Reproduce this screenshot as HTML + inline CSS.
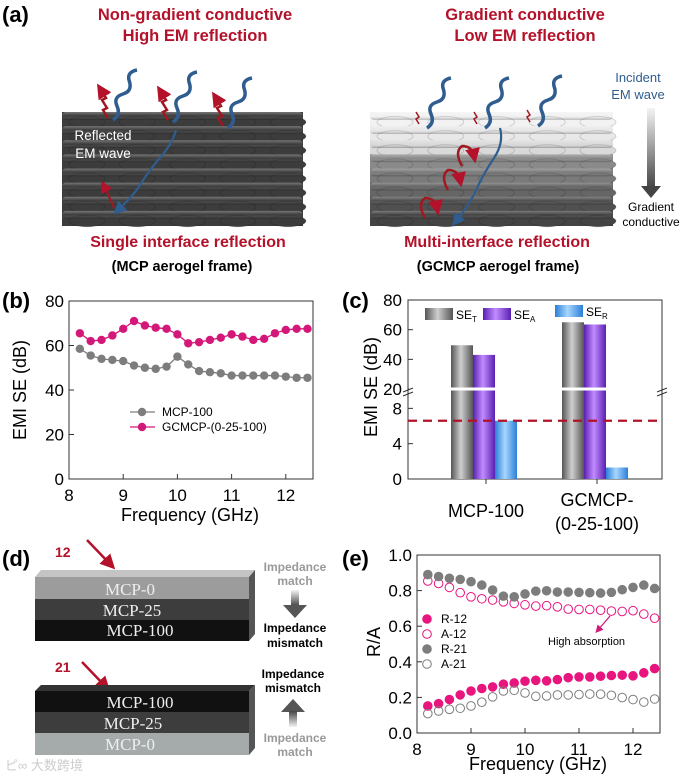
<!DOCTYPE html>
<html><head><meta charset="utf-8"><style>
body{margin:0;background:#fff}
svg{display:block;font-family:"Liberation Sans",Arial,sans-serif}
</style></head><body>
<svg id="fig" width="685" height="779" viewBox="0 0 685 779" xmlns="http://www.w3.org/2000/svg">
<defs>
<linearGradient id="gT" x1="0" x2="1"><stop offset="0" stop-color="#555"/><stop offset="0.45" stop-color="#cfcfcf"/><stop offset="1" stop-color="#555"/></linearGradient>
<linearGradient id="gA" x1="0" x2="1"><stop offset="0" stop-color="#5a1fb0"/><stop offset="0.45" stop-color="#c08cff"/><stop offset="1" stop-color="#5a1fb0"/></linearGradient>
<linearGradient id="gR" x1="0" x2="1"><stop offset="0" stop-color="#2a7fd8"/><stop offset="0.45" stop-color="#a8d6ff"/><stop offset="1" stop-color="#2a7fd8"/></linearGradient>
<linearGradient id="rod" x1="0" y1="0" x2="0" y2="1"><stop offset="0" stop-color="#fff" stop-opacity="0.3"/><stop offset="0.5" stop-color="#fff" stop-opacity="0"/><stop offset="1" stop-color="#000" stop-opacity="0.3"/></linearGradient>
<linearGradient id="gradArr" x1="0" y1="0" x2="0" y2="1"><stop offset="0" stop-color="#f4f4f4"/><stop offset="1" stop-color="#444"/></linearGradient>
<linearGradient id="gradArrUp" x1="0" y1="1" x2="0" y2="0"><stop offset="0" stop-color="#f4f4f4"/><stop offset="1" stop-color="#444"/></linearGradient>
<marker id="ah" markerWidth="6" markerHeight="6" refX="3" refY="3" orient="auto"><path d="M0,0 L6,3 L0,6z" fill="#b3122a"/></marker>
<marker id="ahm" markerWidth="6" markerHeight="6" refX="3" refY="3" orient="auto"><path d="M0,0 L6,3 L0,6z" fill="#d4187a"/></marker>
<marker id="ahb" markerWidth="6" markerHeight="6" refX="3" refY="3" orient="auto"><path d="M0,0 L6,3 L0,6z" fill="#2f5d8f"/></marker>
</defs>

<g>
<text x="2" y="22" font-size="22" font-weight="bold">(a)</text>
<text x="195" y="20" font-size="16.5" font-weight="bold" fill="#b3122a" text-anchor="middle">Non-gradient conductive</text>
<text x="195" y="41" font-size="16.5" font-weight="bold" fill="#b3122a" text-anchor="middle">High EM reflection</text>
<text x="525" y="20" font-size="16.5" font-weight="bold" fill="#b3122a" text-anchor="middle">Gradient conductive</text>
<text x="525" y="41" font-size="16.5" font-weight="bold" fill="#b3122a" text-anchor="middle">Low EM reflection</text>
<g id="blockL"></g>
<g id="blockR"></g>
<text x="103" y="140" font-size="13.5" fill="#fff" text-anchor="middle">Reflected</text>
<text x="103" y="158" font-size="13.5" fill="#fff" text-anchor="middle">EM wave</text>
<text x="638" y="82" font-size="13" fill="#2f5d8f" text-anchor="middle">Incident</text>
<text x="638" y="99" font-size="13" fill="#2f5d8f" text-anchor="middle">EM wave</text>
<rect x="647" y="108" width="8" height="80" fill="url(#gradArr)"/>
<path d="M641,186 L661,186 L651,198z" fill="#444"/>
<text x="651" y="211" font-size="12" text-anchor="middle">Gradient</text>
<text x="651" y="226" font-size="12" text-anchor="middle">conductive</text>
<text x="188" y="247" font-size="16" font-weight="bold" fill="#b3122a" text-anchor="middle">Single  interface reflection</text>
<text x="182" y="271" font-size="14.5" font-weight="bold" text-anchor="middle">(MCP aerogel frame)</text>
<text x="497" y="247" font-size="16" font-weight="bold" fill="#b3122a" text-anchor="middle">Multi-interface reflection</text>
<text x="498" y="271" font-size="14.5" font-weight="bold" text-anchor="middle">(GCMCP aerogel frame)</text>
</g>

<g id="panelB">
<text x="2" y="308" font-size="22" font-weight="bold">(b)</text>
<text transform="translate(26,390) rotate(-90)" font-size="18" text-anchor="middle">EMI SE (dB)</text>
<text x="190" y="521" font-size="18" text-anchor="middle">Frequency (GHz)</text>
</g>

<g id="panelC">
<text x="342" y="308" font-size="22" font-weight="bold">(c)</text>
<text transform="translate(377,387) rotate(-90)" font-size="18" text-anchor="middle">EMI SE (dB)</text>
</g>

<g font-family="Liberation Serif,serif">
<text x="2" y="566" font-size="22" font-weight="bold" font-family="Liberation Sans,sans-serif">(d)</text>
<text x="55" y="557" font-size="14" font-weight="bold" fill="#b3122a" font-family="Liberation Sans,sans-serif">12</text>
<line x1="87" y1="540" x2="110" y2="564" stroke="#b3122a" stroke-width="2.5" marker-end="url(#ah)"/>
<path d="M35,577 L41,570 L255,570 L249,577z" fill="#c4c4c4"/>
<path d="M249,577 L255,570 L255,634 L249,641z" fill="#555"/>
<rect x="35" y="577" width="214" height="22" fill="#9c9c9c"/>
<rect x="35" y="599" width="214" height="21" fill="#3d3d3d"/>
<rect x="35" y="620" width="214" height="21" fill="#111"/>
<text x="130" y="595" font-size="17" fill="#eee" text-anchor="middle">MCP-0</text>
<text x="132" y="616" font-size="17" fill="#eee" text-anchor="middle">MCP-25</text>
<text x="140" y="636" font-size="17" fill="#eee" text-anchor="middle">MCP-100</text>
<text x="55" y="672" font-size="14" font-weight="bold" fill="#b3122a" font-family="Liberation Sans,sans-serif">21</text>
<line x1="82" y1="662" x2="105" y2="686" stroke="#b3122a" stroke-width="2.5" marker-end="url(#ah)"/>
<path d="M35,691 L41,685 L255,685 L249,691z" fill="#333"/>
<path d="M249,691 L255,685 L255,748 L249,755z" fill="#555"/>
<rect x="35" y="691" width="214" height="21" fill="#111"/>
<rect x="35" y="712" width="214" height="21" fill="#3d3d3d"/>
<rect x="35" y="733" width="214" height="22" fill="#a5aaaa"/>
<text x="140" y="708" font-size="17" fill="#eee" text-anchor="middle">MCP-100</text>
<text x="133" y="729" font-size="17" fill="#eee" text-anchor="middle">MCP-25</text>
<text x="130" y="750" font-size="17" fill="#eee" text-anchor="middle">MCP-0</text>
<g font-family="Liberation Sans,sans-serif" font-size="12" font-weight="bold" text-anchor="middle">
<text x="295" y="571" fill="#999">Impedance</text><text x="295" y="585" fill="#999">match</text>
<rect x="291" y="590" width="8" height="16" fill="url(#gradArr)"/><path d="M283,605 L307,605 L295,618z" fill="#555"/>
<text x="295" y="632">Impedance</text><text x="295" y="647">mismatch</text>
<text x="293" y="678">Impedance</text><text x="293" y="692">mismatch</text>
<path d="M281,712 L305,712 L293,699z" fill="#555"/><rect x="289" y="711" width="8" height="16" fill="url(#gradArrUp)"/>
<text x="295" y="742" fill="#999">Impedance</text><text x="295" y="756" fill="#999">match</text>
</g>
<text x="5" y="770" font-size="13" fill="#ccc" font-family="Liberation Sans,Noto Sans CJK SC,sans-serif">ピ∞ 大数跨境</text>
</g>

<g id="panelE">
<text x="342" y="566" font-size="22" font-weight="bold">(e)</text>
<text transform="translate(380,642) rotate(-90)" font-size="18" text-anchor="middle">R/A</text>
<text x="538" y="770" font-size="18" text-anchor="middle">Frequency (GHz)</text>
<text x="548" y="645" font-size="11">High absorption</text>
<line x1="610" y1="616" x2="598" y2="630" stroke="#d4187a" stroke-width="1.3" marker-end="url(#ahm)"/>
</g>
</svg>
<script>
const freq = [8.2,8.4,8.6,8.8,9.0,9.2,9.4,9.6,9.8,10.0,10.2,10.4,10.6,10.8,11.0,11.2,11.4,11.6,11.8,12.0,12.2,12.4];
const seMCP = [58.5,55.5,54,53.5,53,51,50,49.5,50.5,55,51.5,48.5,48,47.5,46.5,46.5,46.5,46.5,46.5,46,45.5,45.5];
const seGCMCP = [65.5,62,62.5,64.5,67.5,71,69,68,67.5,65,61,61.5,62.5,63.5,65,64,62.5,63,65.5,67,67.5,67.5];
const bTicksY = [0,20,40,60,80];
const freqTicks = [8,9,10,11,12];
const cCategories = ["MCP-100","GCMCP-"];
const seT = [49.5,65];
const seA = [43,63.5];
const seR = [6.6,1.3];
const cRefLine = 6.6;
const cTicksUpper = [20,40,60,80];
const cTicksLower = [0,4,8];
const eR12 = [0.152,0.165,0.188,0.214,0.236,0.25,0.259,0.274,0.281,0.291,0.296,0.293,0.3,0.311,0.315,0.315,0.319,0.323,0.325,0.321,0.338,0.362];
const eA12 = [0.854,0.84,0.818,0.788,0.765,0.754,0.747,0.737,0.728,0.72,0.713,0.715,0.709,0.696,0.694,0.694,0.69,0.685,0.683,0.687,0.668,0.645];
const eR21 = [0.89,0.879,0.869,0.863,0.85,0.831,0.803,0.769,0.765,0.781,0.797,0.799,0.792,0.792,0.79,0.788,0.786,0.79,0.805,0.818,0.831,0.812];
const eA21 = [0.109,0.124,0.133,0.139,0.152,0.173,0.203,0.236,0.24,0.225,0.206,0.208,0.214,0.214,0.216,0.219,0.218,0.212,0.199,0.188,0.174,0.191];
const eTicksY = [0,0.2,0.4,0.6,0.8,1.0];

const NS="http://www.w3.org/2000/svg";
function mk(parent,tag,attrs,text){const e=document.createElementNS(NS,tag);for(const k in attrs)e.setAttribute(k,attrs[k]);if(text!==undefined)e.textContent=text;parent.appendChild(e);return e;}

function block(id,x0,x1,y0,colors){
  const g=document.getElementById(id);
  const h=(225-y0)/colors.length;
  colors.forEach((c,i)=>{
    const y=y0+i*h;
    const r=mk(g,'rect',{x:x0,y:y,width:x1-x0,height:h+1,fill:c});
    
    
    for(let k=0;k<5;k++){mk(g,'ellipse',{cx:x0+25+k*(x1-x0-40)/4,cy:y+h*0.72,rx:18,ry:h*0.4,fill:c,stroke:'rgba(0,0,0,0.15)'});}
    mk(g,'rect',{x:x0,y:y,width:x1-x0,height:h*0.55,rx:h*0.27,fill:'url(#rod)'});
  });
}
block('blockL',62,303,112,Array(8).fill('#3c3c3c'));
block('blockR',370,613,112,['#f2f2f2','#e8e8e8','#d9d9d9','#8a8a8a','#7a7a7a','#666','#505050','#444']);
function wave(g,x,y){mk(g,'path',{d:`M${x},${y} q8,-5 4,-14 q-4,-9 6,-12 q10,-3 6,-14 q-2,-8 8,-10`,fill:'none',stroke:'#2f5d8f','stroke-width':3.5});}
const gL=document.getElementById('blockL'), gR=document.getElementById('blockR');
[[113,120],[173,122],[228,128]].forEach(p=>{wave(gL,p[0],p[1]);mk(gL,'path',{d:`M${p[0]-5},${p[1]-2} l-5,-8 l4,-2 l-5,-8 l4,-2 l-5,-8`,fill:'none',stroke:'#a01820','stroke-width':2.5,'marker-end':'url(#ah)'});});
[[427,128],[485,128],[538,126]].forEach(p=>{wave(gR,p[0],p[1]);mk(gR,'path',{d:`M${p[0]-8},${p[1]-4} l-3,-5 l3,-2 l-3,-5`,fill:'none',stroke:'#a01820','stroke-width':1.5});});
mk(gL,'path',{d:'M176,130 q-4,15 -18,30 q-12,15 -18,25 q-6,10 -22,25',fill:'none',stroke:'#2f5d8f','stroke-width':2.2,'marker-end':'url(#ahb)'});
mk(gL,'path',{d:'M114,208 q-5,-12 -10,-22',fill:'none',stroke:'#a01820','stroke-width':2,'marker-end':'url(#ah)'});
mk(gR,'path',{d:'M500,128 q4,15 -6,30 q-10,15 -16,28 q-6,15 -22,35',fill:'none',stroke:'#2f5d8f','stroke-width':2.2,'marker-end':'url(#ahb)'});
[[462,148,1],[448,172,1],[425,200,1]].forEach(p=>{mk(gR,'path',{d:`M${p[0]},${p[1]+18} q-8,-14 0,-20 q10,0 12,10`,fill:'none',stroke:'#a01820','stroke-width':2.5,'marker-end':'url(#ah)'});});

(function(){
  const g=document.getElementById('panelB');
  const L=69,R=313,T=301,B=479;
  const x=f=>L+(f-8)*54.2, y=v=>B-(v/80)*(B-T);
  const ax=mk(g,'rect',{x:L,y:T,width:R-L,height:B-T,fill:'none',stroke:'#333','stroke-width':1});
  
  bTicksY.forEach(v=>{mk(g,'line',{x1:L,y1:y(v),x2:L+5,y2:y(v),stroke:'#333'});
    const t=mk(g,'text',{x:L-5,y:y(v)+6,'font-size':17,'text-anchor':'end'},v);
    });
  freqTicks.forEach(f=>{mk(g,'line',{x1:x(f),y1:B,x2:x(f),y2:B-5,stroke:'#333'});
    const t=mk(g,'text',{x:x(f),y:B+22,'font-size':17,'text-anchor':'middle'},f);
    });
  [[seMCP,'#7d7d7d','mcp-100'],[seGCMCP,'#d4187a','gcmcp']].forEach(s=>{
    const l=mk(g,'polyline',{points:s[0].map((v,i)=>x(freq[i])+','+y(v)).join(' '),fill:'none',stroke:s[1],'stroke-width':1.3});
    
    s[0].forEach((v,i)=>{const c=mk(g,'circle',{cx:x(freq[i]),cy:y(v),r:4.2,fill:s[1]});
      });
  });
  [['MCP-100','#7d7d7d',412],['GCMCP-(0-25-100)','#d4187a',427]].forEach(e=>{
    const lg=mk(g,'g',{});
    mk(lg,'line',{x1:130,y1:e[2],x2:155,y2:e[2],stroke:e[1],'stroke-width':1.3});
    mk(lg,'circle',{cx:142,cy:e[2],r:4.2,fill:e[1]});
    mk(lg,'text',{x:162,y:e[2]+4,'font-size':12},e[0]);});
})();

(function(){
  const g=document.getElementById('panelC');
  const L=408,R=662,T=300,B=479,BR=389;
  const y=v=> v<=10.2 ? B-v*8.83 : BR-(v-20)*1.483;
  const xc=[486,597], bw=22;
  mk(g,'rect',{x:L,y:T,width:R-L,height:B-T,fill:'none',stroke:'#333'});
  cTicksUpper.concat(cTicksLower).forEach(v=>{mk(g,'line',{x1:L,y1:y(v),x2:L+5,y2:y(v),stroke:'#333'});
    const t=mk(g,'text',{x:L-6,y:y(v)+6,'font-size':17,'text-anchor':'end'},v);
    });
  [[seT,'url(#gT)','set'],[seA,'url(#gA)','sea'],[seR,'url(#gR)','ser']].forEach((s,k)=>{
    s[0].forEach((v,i)=>{const bx=xc[i]-35+k*bw;
      const r=mk(g,'rect',{x:bx,y:y(v),width:bw,height:B-y(v),fill:s[1]});
      });});
  mk(g,'rect',{x:L+1,y:BR-1.5,width:R-L-2,height:3,fill:'#fff'});
  mk(g,'path',{d:`M${L-5},${BR+3} l10,-4 M${L-5},${BR+7} l10,-4 M${R-5},${BR+3} l10,-4 M${R-5},${BR+7} l10,-4`,stroke:'#333'});
  const d=mk(g,'line',{x1:L,y1:y(cRefLine),x2:R,y2:y(cRefLine),stroke:'#b3122a','stroke-width':2.2,'stroke-dasharray':'9,6'});
  
  xc.forEach(c=>mk(g,'line',{x1:c,y1:B,x2:c,y2:B+5,stroke:'#333'}));
  const t1=mk(g,'text',{x:xc[0],y:517,'font-size':18,'text-anchor':'middle'},cCategories[0]);
  
  const t2=mk(g,'text',{x:xc[1],y:506,'font-size':18,'text-anchor':'middle'},cCategories[1]);
  
  mk(g,'text',{x:xc[1],y:530,'font-size':18,'text-anchor':'middle'},'(0-25-100)');
  [[425,'url(#gT)','T',308],[483,'url(#gA)','A',308],[555,'url(#gR)','R',305]].forEach(e=>{
    const lg=mk(g,'g',{});
    mk(lg,'rect',{x:e[0],y:e[3],width:28,height:12,fill:e[1]});
    const t=mk(lg,'text',{x:e[0]+31,y:e[3]+11,'font-size':12},'SE');
    mk(t,'tspan',{'font-size':8,dy:3},e[2]);});
})();

(function(){
  const g=document.getElementById('panelE');
  const L=417,R=660,T=555,B=733;
  const x=f=>L+(f-8)*54, y=v=>B-v*(B-T);
  mk(g,'rect',{x:L,y:T,width:R-L,height:B-T,fill:'none',stroke:'#333'});
  eTicksY.forEach(v=>{mk(g,'line',{x1:L,y1:y(v),x2:L+5,y2:y(v),stroke:'#333'});
    const t=mk(g,'text',{x:L-5,y:y(v)+6,'font-size':17,'text-anchor':'end'},v.toFixed(1));
    });
  freqTicks.forEach(f=>{mk(g,'line',{x1:x(f),y1:B,x2:x(f),y2:B-5,stroke:'#333'});
    const t=mk(g,'text',{x:x(f),y:B+22,'font-size':17,'text-anchor':'middle'},f);
    });
  const series=[[eR12,'#e8157f',true,'R-12'],[eA12,'#e8157f',false,'A-12'],[eR21,'#7d7d7d',true,'R-21'],[eA21,'#7d7d7d',false,'A-21']];
  series.forEach((s,k)=>{
    s[0].forEach((v,i)=>{const c=mk(g,'circle',{cx:x(freq[i]),cy:y(v),r:4.3,fill:s[2]?s[1]:'none',stroke:s[1],'stroke-width':1});
      });
    const lg=mk(g,'g',{});
    const ly=619+k*15;
    mk(lg,'circle',{cx:427,cy:ly,r:4.3,fill:s[2]?s[1]:'none',stroke:s[1]});
    mk(lg,'text',{x:441,y:ly+4,'font-size':12},s[3]);
  });
})();
</script>
</body></html>
